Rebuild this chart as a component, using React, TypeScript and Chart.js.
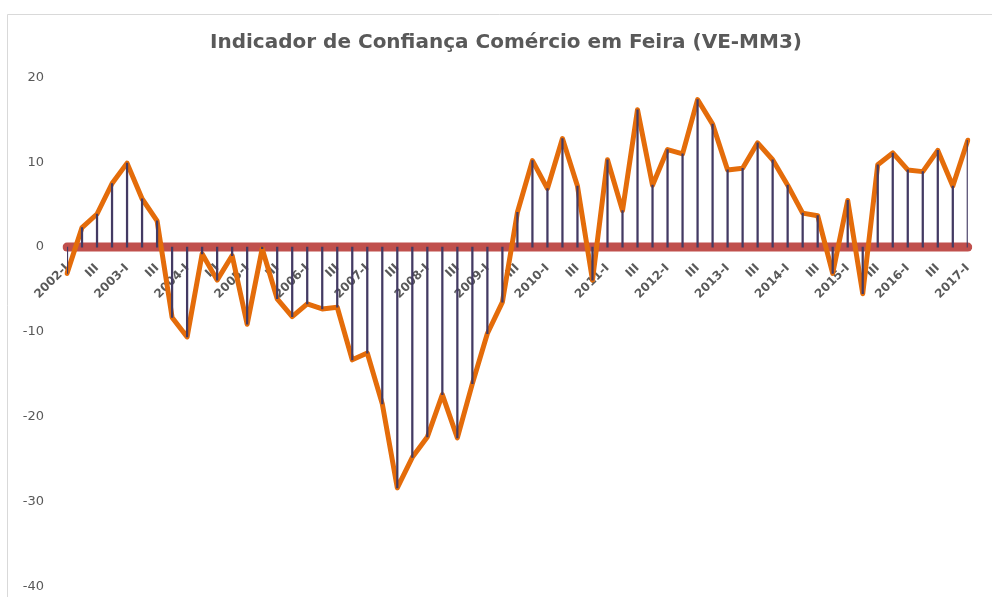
import React, { useEffect, useRef } from "react";
import { Chart, registerables } from "chart.js";

Chart.register(...registerables);

// ---- data ----
const TITLE = "Indicador de Confiança Comércio em Feira (VE-MM3)";
const YEARS = [2002, 2003, 2004, 2005, 2006, 2007, 2008, 2009, 2010, 2011, 2012, 2013, 2014, 2015, 2016, 2017];
const QUARTERS = ["I", "II", "III", "IV"];

const VALUES = [
  -3.1, 2.3, 3.9, 7.5, 9.9, 5.7, 3.1, -8.3, -10.6, -0.8,
  -3.9, -1.0, -9.1, -0.2, -6.1, -8.2, -6.7, -7.3, -7.1, -13.3,
  -12.5, -18.5, -28.4, -24.8, -22.4, -17.4, -22.5, -16.1, -10.2, -6.5,
  4.1, 10.2, 6.9, 12.8, 7.2, -3.9, 10.3, 4.3, 16.2, 7.3,
  11.5, 11.0, 17.4, 14.5, 9.1, 9.3, 12.3, 10.3, 7.3, 4.0,
  3.7, -3.1, 5.5, -5.5, 9.7, 11.1, 9.1, 8.9, 11.4, 7.2,
  12.6,
];

const Y_MIN = -40;
const Y_MAX = 20;
const Y_STEP = 10;

// category labels built from years and quarters (2002-I .. 2017-I)
const CATEGORIES: string[] = [];
YEARS.forEach((y) =>
  QUARTERS.forEach((q) => {
    if (y < 2017 || q === "I") CATEGORIES.push(q === "I" ? `${y}-I` : q);
  })
);
const ZERO_LINE = CATEGORIES.map(() => 0);

const framePlugin = {
  id: "frame",
  beforeDraw(chart: any) {
    const ctx = chart.ctx;
    ctx.save();
    ctx.fillStyle = "#ffffff";
    ctx.fillRect(0, 0, chart.width, chart.height);
    ctx.strokeStyle = "#D9D9D9";
    ctx.lineWidth = 1;
    ctx.beginPath();
    ctx.moveTo(7.5, chart.height);
    ctx.lineTo(7.5, 14.5);
    ctx.lineTo(chart.width, 14.5);
    ctx.stroke();
    ctx.restore();
  },
};

export default function App() {
  const ref = useRef<HTMLCanvasElement | null>(null);

  useEffect(() => {
    if (!ref.current) return;
    const chart = new Chart(ref.current, {
      type: "line",
      data: {
        labels: CATEGORIES,
        datasets: [
          {
            type: "bar",
            label: "drop",
            data: VALUES,
            backgroundColor: "#433A63",
            borderWidth: 0,
            barThickness: 1.6,
            order: 0,
          } as any,
          {
            type: "line",
            label: "Indicador",
            data: VALUES,
            borderColor: "#E46C0A",
            borderWidth: 5,
            borderJoinStyle: "round",
            borderCapStyle: "round",
            pointRadius: 0,
            tension: 0,
            order: 1,
          },
          {
            type: "line",
            label: "zero",
            data: ZERO_LINE,
            borderColor: "#C0504D",
            borderWidth: 9,
            borderCapStyle: "round",
            pointRadius: 0,
            tension: 0,
            order: 2,
          },
        ],
      },
      options: {
        animation: false,
        responsive: false,
        maintainAspectRatio: false,
        layout: { padding: { left: 20, right: 0, top: 0, bottom: 9 } },
        plugins: {
          legend: { display: false },
          tooltip: { enabled: false },
          title: {
            display: true,
            text: TITLE,
            color: "#595959",
            font: { family: "DejaVu Sans", size: 20, weight: "bold" },
            padding: { top: 31, bottom: 22.5 },
          },
        },
        scales: {
          x: {
            type: "category",
            offset: false,
            position: { y: 0 } as any,
            grid: { display: false, drawTicks: false },
            border: { display: false },
            ticks: {
              autoSkip: false,
              minRotation: 45,
              maxRotation: 45,
              padding: 14,
              color: "#595959",
              font: { family: "DejaVu Sans", size: 12, weight: "bold" },
              callback: (_v: any, i: number) => (i % 2 === 0 ? CATEGORIES[i] : ""),
            },
          },
          y: {
            position: "left",
            min: Y_MIN,
            max: Y_MAX,
            grid: { display: false, drawTicks: true, tickLength: 20 },
            border: { display: false },
            afterFit: (scale: any) => {
              scale.width = 47;
            },
            ticks: {
              stepSize: Y_STEP,
              padding: 3,
              color: "#595959",
              font: { family: "DejaVu Sans", size: 13 },
            },
          },
          yRight: {
            position: "right",
            display: true,
            grid: { display: false, drawTicks: false },
            border: { display: false },
            ticks: { display: false },
            afterFit: (scale: any) => {
              scale.width = 20;
            },
          },
        },
      },
      plugins: [framePlugin],
    });
    return () => chart.destroy();
  }, []);

  return (
    <div style={{ position: "fixed", left: 0, top: 0, width: 992, height: 597, background: "#fff" }}>
      <canvas ref={ref} width={992} height={597} style={{ width: 992, height: 597, display: "block" }} />
    </div>
  );
}
